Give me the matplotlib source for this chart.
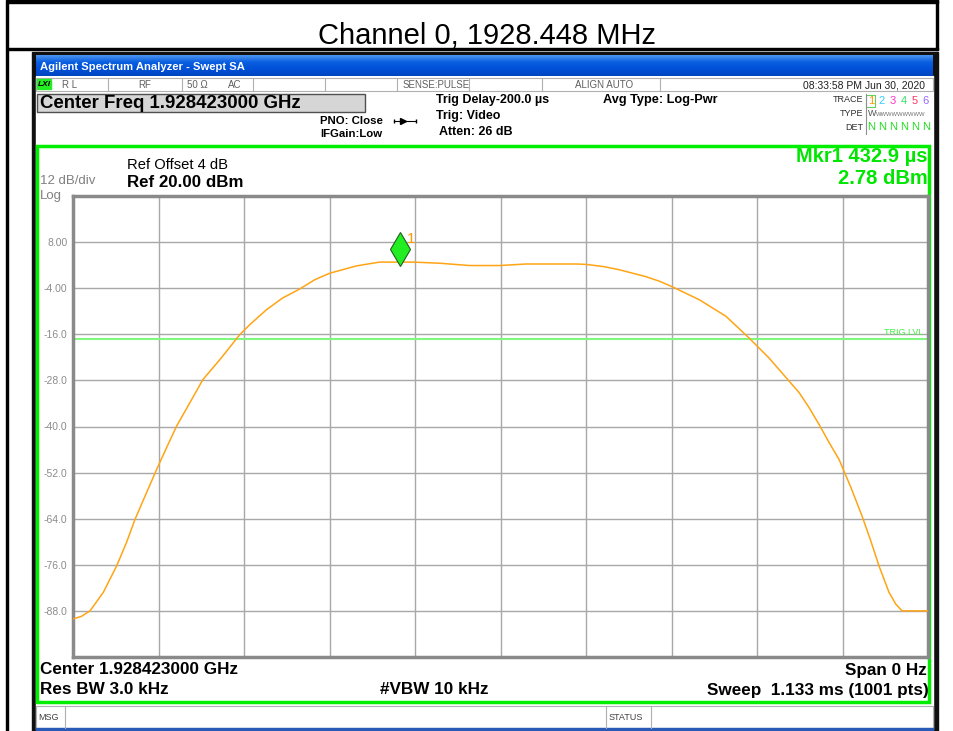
import numpy as np
import matplotlib
matplotlib.use("Agg")
import matplotlib.pyplot as plt
from matplotlib.patches import Rectangle
from matplotlib import transforms

plt.rcParams['font.family'] = ['Liberation Sans', 'DejaVu Sans']

# trace: sweep time (ms) vs level (dBm)
time_ms = [0.0, 0.0114, 0.0225, 0.0401, 0.0578, 0.0711, 0.0821, 0.0975, 0.1108,
           0.1240, 0.1373, 0.1549, 0.1721, 0.1946, 0.2210, 0.2342, 0.2564, 0.2773,
           0.3005, 0.3203, 0.3402, 0.3755, 0.4063, 0.4329, 0.4504, 0.4858, 0.5255,
           0.5652, 0.6005, 0.6667, 0.6799, 0.7041, 0.7240, 0.7593, 0.7773, 0.7938,
           0.8299, 0.8652, 0.8961, 0.9225, 0.9623, 0.9755, 0.9887, 1.0020, 1.0152,
           1.0307, 1.0456, 1.0572, 1.0681, 1.0814, 1.0902, 1.0986, 1.1317, 1.133]
level_dbm = [-90.1, -89.4, -88.0, -83.2, -76.3, -70.1, -64.2, -57.2, -51.2,
             -45.5, -39.9, -33.8, -27.8, -22.6, -16.1, -13.5, -9.6, -6.6,
             -4.2, -1.8, -0.1, 1.8, 2.8, 2.78, 2.8, 2.5, 1.9,
             1.9, 2.3, 2.3, 2.2, 1.6, 0.8, -1.0, -2.2, -3.6,
             -7.0, -11.3, -17.0, -22.2, -31.2, -35.1, -39.5, -44.2, -48.6,
             -55.8, -63.3, -69.8, -76.3, -83.2, -86.2, -88.0, -88.0, -88.0]

sweep_ms = 1.133
ref_level = 20.0
db_per_div = 12.0
trig_level = -17.2
mkr_time = 0.4329
mkr_level = 2.78
ytick_labels = ['', '-88.0', '-76.0', '-64.0', '-52.0', '-40.0', '-28.0',
                '-16.0', '-4.00', '8.00', '']
trace_nums = ['1', '2', '3', '4', '5', '6']
trace_cols = ['#ff9900', '#33ccff', '#ff33cc', '#33dd66', '#ff3366', '#9966ff']
status_cells = [(62, 'R L'), (138, 'RF'), (187, '50 Ω'), (228, 'AC'),
                (403, 'SENSE:PULSE'), (575, 'ALIGN AUTO')]
separators = [108, 182, 253, 325, 397, 469, 542, 660]

W, H = 954, 731
fig = plt.figure(figsize=(W / 100, H / 100), dpi=100)
bg = fig.add_axes([0, 0, 1, 1])
bg.set_xlim(0, W)
bg.set_ylim(H, 0)
bg.axis('off')


def txt(x, y, s, **kw):
    kw.setdefault('va', 'center')
    bg.text(x, y, s, **kw)


# document table borders and caption
bg.add_patch(Rectangle((7, 0), 931, 3, color='black'))
bg.add_patch(Rectangle((7, 48), 931, 2, color='black'))
bg.add_patch(Rectangle((6, 0), 2, H, color='black'))
bg.add_patch(Rectangle((936, 0), 2, 50, color='black'))
txt(487, 36, 'Channel 0, 1928.448 MHz', ha='center', fontsize=21)

# screenshot frame
bg.add_patch(Rectangle((32, 52), 906, H - 52, color='#101010'))
bg.add_patch(Rectangle((36, 76), 897, H - 78, color='white'))

# blue title bar
grad = np.linspace(0, 1, 50).reshape(-1, 1)
cmap = matplotlib.colors.LinearSegmentedColormap.from_list(
    'xp', ['#4a94f0', '#0a5ee0', '#0050d8', '#0046c0'])
bg.imshow(grad, cmap=cmap, aspect='auto', extent=(36, 933, 76, 55), zorder=1)
txt(40, 67, 'Agilent Spectrum Analyzer - Swept SA', color='white',
    fontsize=8.1, fontweight='bold', zorder=2)

# status row
bg.add_patch(Rectangle((36, 78), 897, 13, facecolor='white', edgecolor='#b0b0b0', lw=0.8))
for sx in separators:
    bg.plot([sx, sx], [78, 91], color='#b0b0b0', lw=0.8)
bg.add_patch(Rectangle((37, 79), 14, 10, color='#22ee22'))
txt(38, 85, 'LXI', fontsize=6, fontweight='bold', style='italic')
for sx, s in status_cells:
    txt(sx, 85, s, fontsize=7, color='#606060')
txt(925, 85, '08:33:58 PM Jun 30, 2020', ha='right', fontsize=7.5, color='#202020')

# center freq box and settings
bg.add_patch(Rectangle((37, 94), 328, 18, facecolor='#d6d6d6', edgecolor='#505050', lw=1))
txt(40, 103.5, 'Center Freq 1.928423000 GHz', fontsize=13.4, fontweight='bold')
txt(320, 121, 'PNO: Close', fontsize=8.2, fontweight='bold')
txt(320, 134, 'IFGain:Low', fontsize=8.2, fontweight='bold')
bg.plot([394, 416], [121, 121], color='black', lw=0.8)
bg.plot([403], [121], marker='>', color='black', ms=4)
bg.plot([394, 416], [121, 121], '|', color='black', ms=3)
txt(436, 100, 'Trig Delay-200.0 µs', fontsize=9, fontweight='bold')
txt(436, 116, 'Trig: Video', fontsize=9, fontweight='bold')
txt(439, 132, 'Atten: 26 dB', fontsize=9, fontweight='bold')
txt(603, 100, 'Avg Type: Log-Pwr', fontsize=9.2, fontweight='bold')

txt(863, 100, 'TRACE', ha='right', fontsize=6.5, color='#303030')
txt(863, 114, 'TYPE', ha='right', fontsize=6.5, color='#303030')
txt(863, 127, 'DET', ha='right', fontsize=6.5, color='#303030')
bg.plot([866, 866], [94, 134], color='#909090', lw=0.8)
bg.add_patch(Rectangle((866.5, 94.5), 9, 12, facecolor='none', edgecolor='#66cc66', lw=0.8))
for i, (n, c) in enumerate(zip(trace_nums, trace_cols)):
    tx = 871 + i * 11
    txt(tx, 101, n, ha='center', fontsize=8, color=c)
    txt(tx, 127, 'N', ha='center', fontsize=8, color='#22dd22')
txt(868, 114, 'W', fontsize=6.5, color='#505050')
txt(876, 114, 'WWWWWWWWW', fontsize=4.2, color='#707070')

# green measurement frame
bg.add_patch(Rectangle((37.5, 145.5), 892, 556, facecolor='none', edgecolor='#00ee00', lw=2.5))
txt(127, 165, 'Ref Offset 4 dB', fontsize=10.6)
txt(127, 182.5, 'Ref 20.00 dBm', fontsize=12.2, fontweight='bold')
txt(40, 181.5, '12 dB/div', fontsize=9.5, color='#808080')
txt(40, 196.5, 'Log', fontsize=9.5, color='#808080')
txt(928, 157, 'Mkr1 432.9 µs', ha='right', fontsize=14.5, fontweight='bold', color='#00e600')
txt(928, 178, '2.78 dBm', ha='right', fontsize=14.5, fontweight='bold', color='#00e600')

txt(40, 670, 'Center 1.928423000 GHz', fontsize=12.3, fontweight='bold')
txt(40, 690, 'Res BW 3.0 kHz', fontsize=12.3, fontweight='bold')
txt(434, 690, '#VBW 10 kHz', ha='center', fontsize=12.3, fontweight='bold')
txt(927, 670, 'Span 0 Hz', ha='right', fontsize=12.3, fontweight='bold')
txt(929, 690, 'Sweep  1.133 ms (1001 pts)', ha='right', fontsize=12.3, fontweight='bold')

# message bar
bg.add_patch(Rectangle((36, 706), 897, 22, facecolor='white', edgecolor='#b0b0b0', lw=0.8))
for sx in [65, 606, 651]:
    bg.plot([sx, sx], [706, 728], color='#b0b0b0', lw=0.8)
txt(38, 717, 'MSG', fontsize=6.5, color='#404040')
txt(609, 717, 'STATUS', fontsize=6.5, color='#404040')
bg.add_patch(Rectangle((36, 728), 897, 3, color='#2a5ab8'))

# trace plot
ax = fig.add_axes([73 / W, (H - 657) / H, 855 / W, 461 / H])
ax.plot(time_ms, level_dbm, color='#ffa414', lw=1.1, zorder=3)
ax.axhline(trig_level, color='#80f880', lw=1.5, zorder=2)
ax.text(0.995, trig_level + 0.6, 'TRIG LVL', transform=ax.get_yaxis_transform(),
        ha='right', va='bottom', fontsize=6.5, color='#44ee44')

up = transforms.offset_copy(ax.transData, fig=fig, x=0, y=13, units='dots')
ax.plot([mkr_time], [mkr_level], marker='d', ms=17, mfc='#22ee22', mec='#206020',
        mew=0.8, transform=up, zorder=4)
lbl = transforms.offset_copy(ax.transData, fig=fig, x=11, y=23, units='dots')
ax.text(mkr_time, mkr_level, '1', transform=lbl, ha='center', va='center',
        fontsize=11, color='#ff9900')

ax.set_xlim(0, sweep_ms)
ax.set_ylim(ref_level - 10 * db_per_div, ref_level)
ax.set_xticks(np.linspace(0, sweep_ms, 11))
ax.set_yticks(np.arange(ref_level - 10 * db_per_div, ref_level + 1, db_per_div))
ax.set_yticklabels(ytick_labels)
ax.set_xticklabels([])
ax.tick_params(length=0, labelsize=7.5, labelcolor='#8c8c8c', pad=4)
ax.grid(True, color='#a8a8a8', lw=1)
ax.set_axisbelow(True)
for sp in ax.spines.values():
    sp.set_color('#8a8a8a')
    sp.set_linewidth(2.5)

fig.savefig('out.png', dpi=100)
